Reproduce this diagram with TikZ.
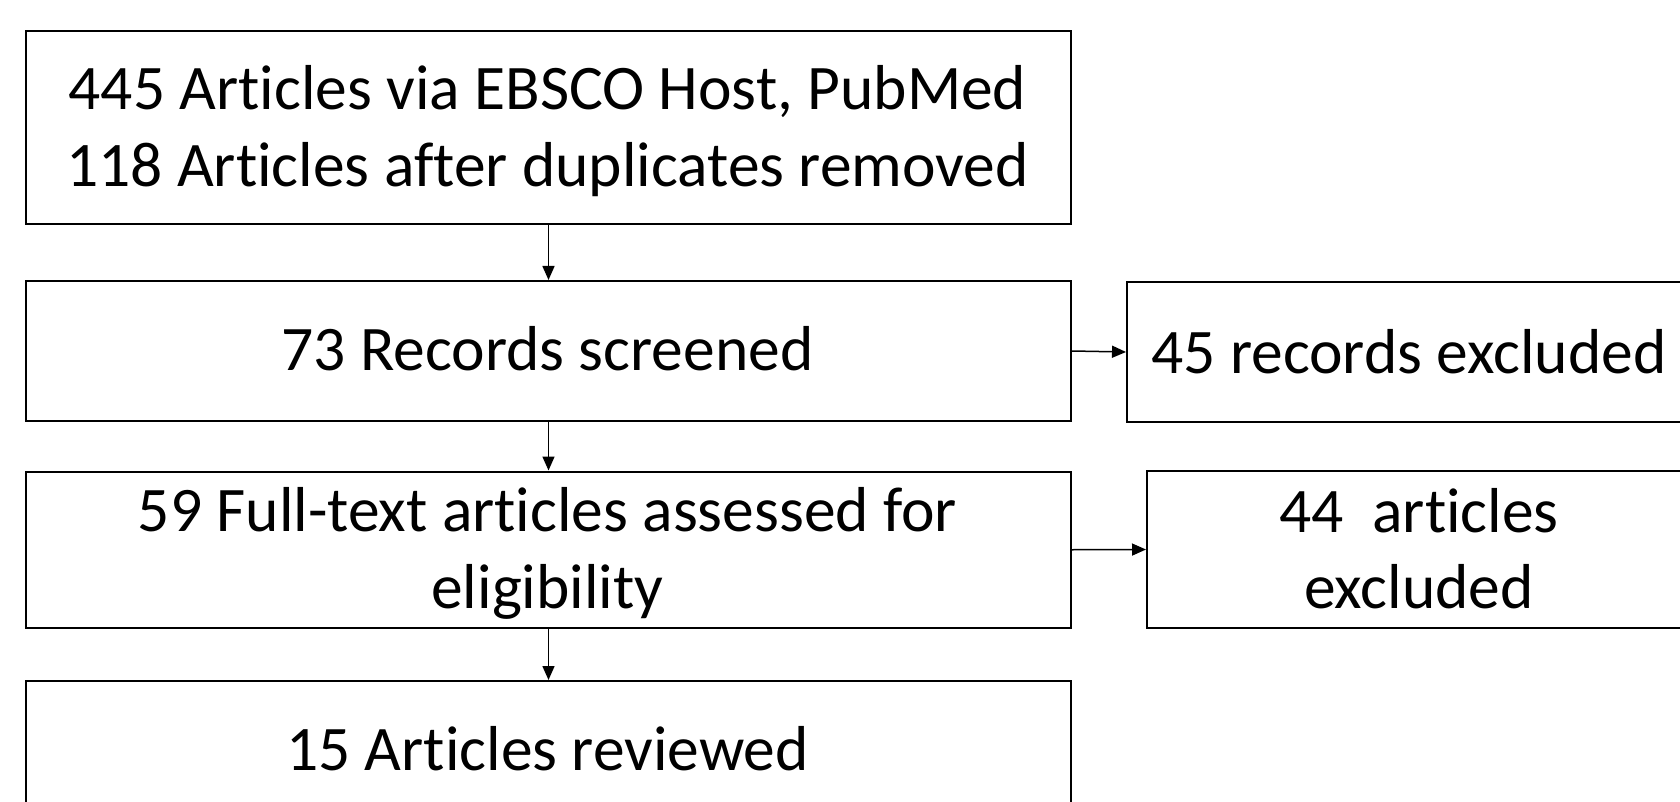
\documentclass[tikz,border=0pt]{standalone}
\usepackage{fontspec}
\setmainfont{Carlito}[Ligatures=NoCommon]
\usetikzlibrary{arrows.meta}
\begin{document}
\begin{tikzpicture}[x=1pt,y=-1pt,
  box/.style={draw=black, line width=2pt, rectangle, inner sep=0pt, anchor=north west},
  txt/.style={anchor=base, inner sep=0pt, font=\fontsize{63.5}{75}\selectfont},
  arr/.style={line width=1.5pt, -{Triangle[length=14pt,width=12pt]}}]
\useasboundingbox (0,0) rectangle (1680,802);
\clip (0,0) rectangle (1680,802);
\fill[white] (0,0) rectangle (1680,802);
% boxes
\node[box, minimum width=1045pt, minimum height=193pt] (b1) at (25,30) {};
\node[box, minimum width=1045pt, minimum height=140pt] (b2) at (25,280) {};
\node[box, minimum width=1045pt, minimum height=156.5pt] (b3) at (25,470.5) {};
\node[box, minimum width=1045pt, minimum height=142pt] (b4) at (25,680) {};
\node[box, minimum width=566pt, minimum height=140pt] (r1) at (1126,281) {};
\node[box, minimum width=546pt, minimum height=157pt] (r2) at (1146,470) {};
% texts
\node[txt] (t1a) at (547.5,110) {445 Articles via EBSCO Host, PubMed};
\node[txt] (t1b) at (547.5,186.7) {118 Articles after duplicates removed};
\node[txt] (t2) at (547.5,370) {73 Records screened};
\node[txt] (t3a) at (547.5,531.7) {59 Full-text articles assessed for};
\node[txt] (t3b) at (547.5,608) {eligibility};
\node[txt] (t4) at (547.5,770) {15 Articles reviewed};
\node[txt] (tr1) at (1409,373.3) {45 records excluded};
\node[txt] (tr2a) at (1419,532.7) {44\ \ articles};
\node[txt] (tr2b) at (1419,608) {excluded};
% connectors
\draw[arr] (b1.south) -- (b2.north);
\draw[arr] (b2.south) -- (b3.north);
\draw[arr] (b3.south) -- (b4.north);
\draw[arr] (b2.east) -- (r1.west);
\draw[arr] (b3.east) -- (r2.west);
\end{tikzpicture}
\end{document}
